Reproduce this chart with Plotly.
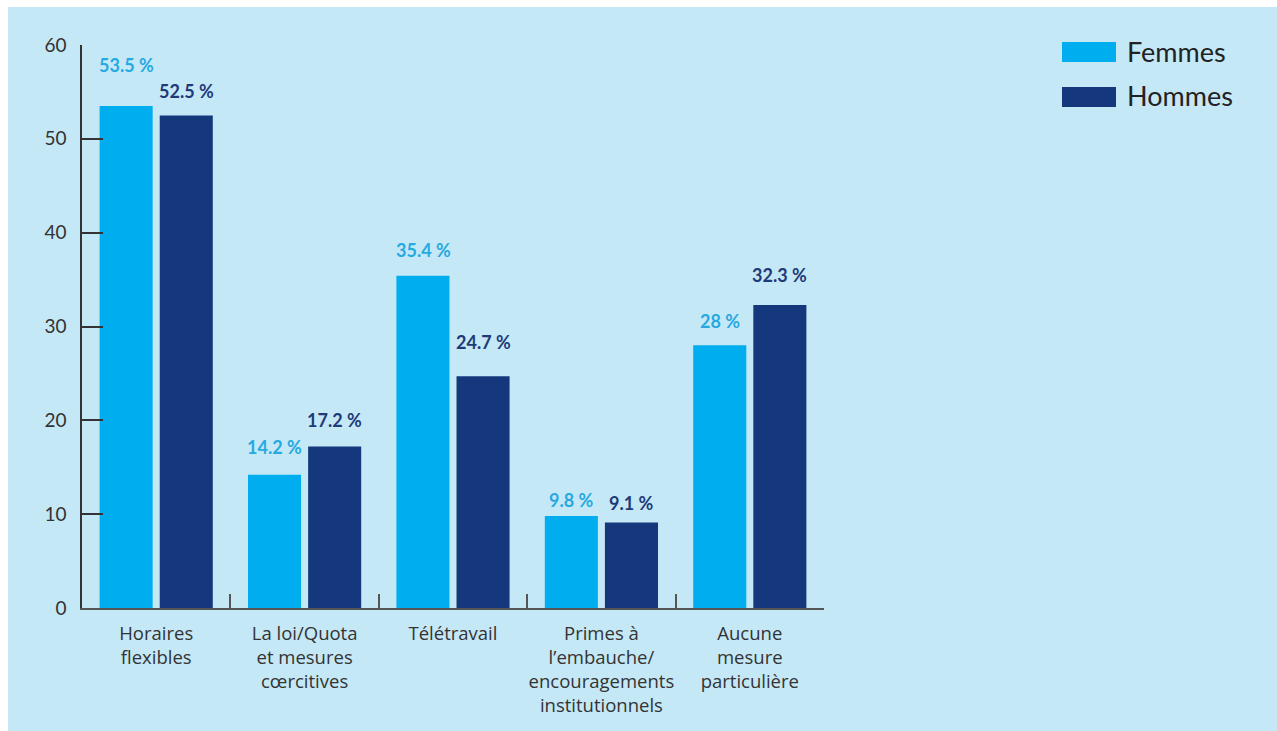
import plotly.graph_objects as go

# Data
categories = [
    "Horaires<br>flexibles",
    "La loi/Quota<br>et mesures<br>cœrcitives",
    "Télétravail",
    "Primes à<br>l’embauche/<br>encouragements<br>institutionnels",
    "Aucune<br>mesure<br>particulière",
]
femmes = [53.5, 14.2, 35.4, 9.8, 28]
hommes = [52.5, 17.2, 24.7, 9.1, 32.3]
y_ticks = [0, 10, 20, 30, 40, 50, 60]

# Vertical offsets (px) of the value labels above the bar tops
femmes_label_shift = [41, 28, 26, 16, 24]
hommes_label_shift = [24, 27, 34, 20, 30]

W, H = 1277, 731
ML, MR, MT, MB = 82, 453, 45, 123
PW, PH = W - ML - MR, H - MT - MB

BG = "#c5e8f7"
C_F = "#00aeef"
C_H = "#15387c"
C_F_TXT = "#27a9e1"
C_H_TXT = "#1f3a78"
FONT = "Lato"
CAT_FONT = "Open Sans"


def px_x(x):
    return (x - ML) / PW


def px_y(y):
    return (H - MB - y) / PH


fig = go.Figure()
fig.add_trace(go.Bar(x=categories, y=femmes, name="Femmes", marker_color=C_F,
                     marker_line_width=0, showlegend=False))
fig.add_trace(go.Bar(x=categories, y=hommes, name="Hommes", marker_color=C_H,
                     marker_line_width=0, showlegend=False))

annotations = []
for i, cat in enumerate(categories):
    annotations.append(dict(x=cat, y=femmes[i], xref="x", yref="y", xshift=-30,
                            yshift=femmes_label_shift[i], yanchor="middle",
                            text=f"{femmes[i]:g} %", showarrow=False,
                            font=dict(family=FONT, size=18, color=C_F_TXT, weight="bold")))
    annotations.append(dict(x=cat, y=hommes[i], xref="x", yref="y", xshift=30,
                            yshift=hommes_label_shift[i], yanchor="middle",
                            text=f"{hommes[i]:g} %", showarrow=False,
                            font=dict(family=FONT, size=18, color=C_H_TXT, weight="bold")))

# Legend drawn as wide swatches with labels
shapes = []
for name, color, y0 in [("Femmes", C_F, 42), ("Hommes", C_H, 87)]:
    shapes.append(dict(type="rect", xref="paper", yref="paper",
                       x0=px_x(1062), x1=px_x(1116), y0=px_y(y0 + 20), y1=px_y(y0),
                       fillcolor=color, line_width=0))
    annotations.append(dict(x=px_x(1125), y=px_y(y0 + 9), xref="paper", yref="paper",
                            xanchor="left", yanchor="middle", text=name, showarrow=False,
                            font=dict(family=FONT, size=27, color="#222222")))

# White strips along the left and top edges of the page
shapes.append(dict(type="rect", xref="paper", yref="paper", x0=px_x(0), x1=px_x(8),
                   y0=px_y(H), y1=px_y(0), fillcolor="white", line_width=0))
shapes.append(dict(type="rect", xref="paper", yref="paper", x0=px_x(0), x1=px_x(W),
                   y0=px_y(7), y1=px_y(0), fillcolor="white", line_width=0))

fig.update_layout(
    width=W, height=H,
    margin=dict(l=ML, r=MR, t=MT, b=MB, pad=0, autoexpand=False),
    paper_bgcolor=BG, plot_bgcolor=BG,
    barmode="group", bargap=0.19, bargroupgap=0.117,
    font=dict(family=FONT, size=18, color="#333333"),
    annotations=annotations, shapes=shapes,
    xaxis=dict(showline=True, linecolor="#555555", linewidth=1.5,
               ticks="inside", ticklen=14, tickcolor="#555555", tickwidth=1.5,
               tickson="boundaries", showgrid=False, zeroline=False,
               tickangle=0, automargin=False, ticklabelstandoff=8,
               tickfont=dict(family=CAT_FONT, size=18.5, color="#333333")),
    yaxis=dict(range=[0, 60], tickvals=y_ticks, showline=True, linecolor="#333333",
               linewidth=1.5, ticks="inside", ticklen=21, tickcolor="#333333",
               tickwidth=1.5, showgrid=False, zeroline=False, ticklabelstandoff=10,
               automargin=False,
               tickfont=dict(family=FONT, size=19, color="#333333")),
)

fig.write_html("out.html")
